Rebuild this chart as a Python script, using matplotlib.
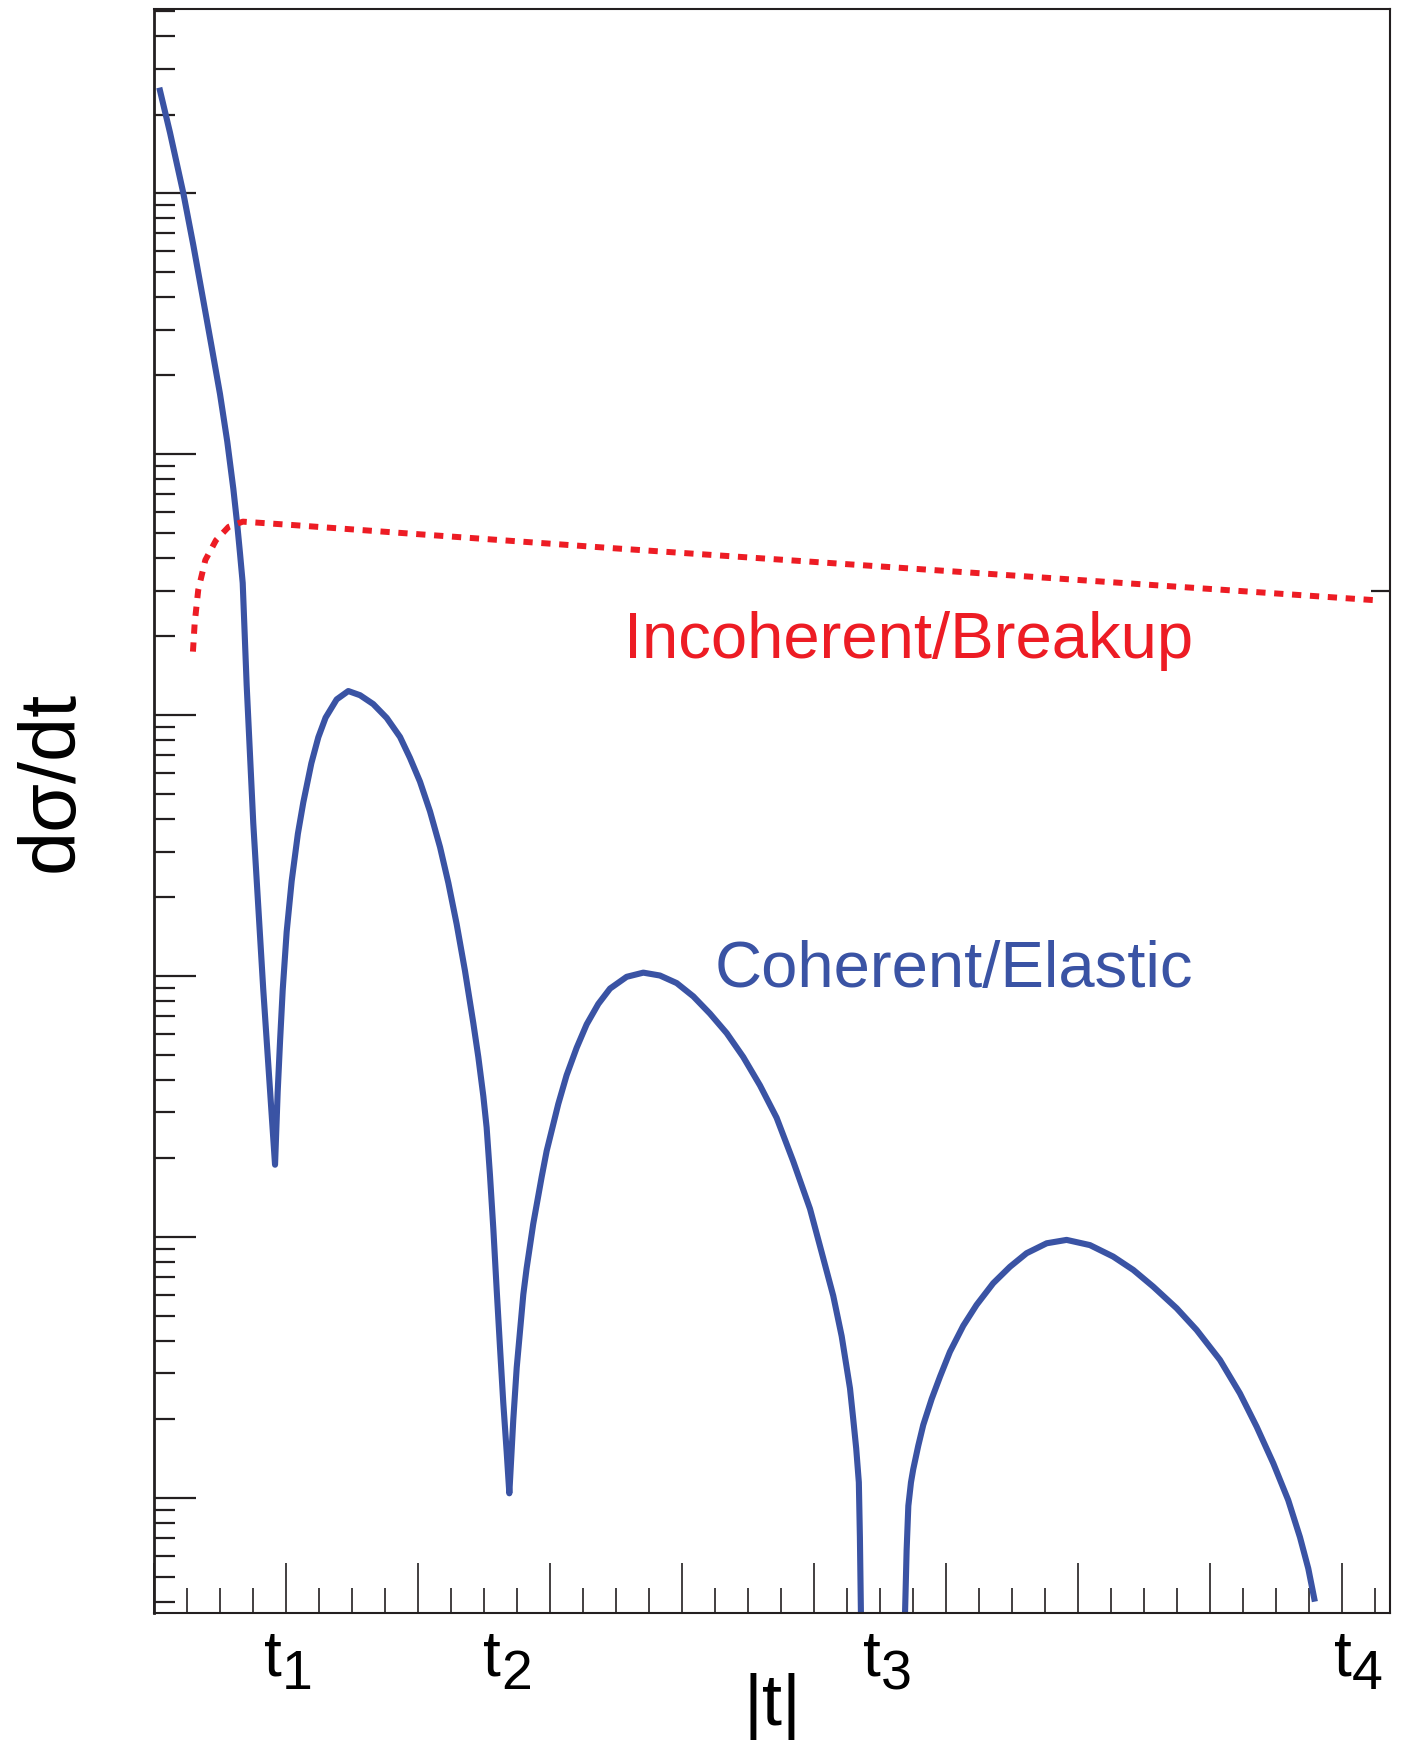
import numpy as np
import matplotlib.pyplot as plt
from matplotlib.ticker import LogLocator, MultipleLocator, NullFormatter, NullLocator

# Coherent/Elastic curve, first part (falls through the 3rd minimum); values are log10(dsigma/dt)
coh_t_a = [0.040, 0.121, 0.222, 0.298, 0.373, 0.437, 0.500, 0.555, 0.601, 0.631, 0.652, 0.672,
           0.702, 0.752, 0.828, 0.917,
           0.937, 0.955, 0.975, 1.005, 1.043, 1.090, 1.131, 1.192, 1.245, 1.300, 1.384, 1.472,
           1.561, 1.661, 1.763, 1.864, 1.939, 2.015, 2.091, 2.167, 2.230, 2.293, 2.356, 2.419,
           2.457, 2.495, 2.520, 2.545, 2.571, 2.596, 2.621, 2.646, 2.672, 2.692,
           2.722, 2.748, 2.798, 2.823, 2.873, 2.937, 2.975, 3.063, 3.126, 3.202, 3.278, 3.366,
           3.455, 3.581, 3.707,
           3.833, 3.960, 4.086, 4.212, 4.339, 4.464, 4.591, 4.717, 4.843, 4.970, 5.058, 5.146,
           5.210, 5.273, 5.298, 5.320, 5.340, 5.348, 5.356]
coh_log10_a = [5.404, 5.232, 5.000, 4.800, 4.590, 4.410, 4.230, 4.048, 3.867, 3.728, 3.617, 3.506,
               3.115, 2.586, 1.946, 1.277,
               1.556, 1.751, 1.946, 2.169, 2.364, 2.545, 2.665, 2.815, 2.915, 2.990, 3.060, 3.092,
               3.076, 3.042, 2.989, 2.916, 2.836, 2.745, 2.631, 2.494, 2.357, 2.199, 2.020, 1.820,
               1.690, 1.540, 1.420, 1.240, 1.030, 0.800, 0.580, 0.366, 0.176, 0.018,
               0.300, 0.500, 0.780, 0.880, 1.050, 1.230, 1.330, 1.510, 1.620, 1.725, 1.815, 1.893,
               1.952, 1.997, 2.013,
               2.002, 1.973, 1.922, 1.856, 1.781, 1.690, 1.581, 1.457, 1.290, 1.108, 0.942, 0.775,
               0.620, 0.420, 0.300, 0.190, 0.060, -0.150, -0.450]

# Coherent/Elastic curve, last lobe
coh_t_b = [5.686, 5.702, 5.715, 5.735, 5.752, 5.790, 5.828, 5.892, 5.955, 6.030, 6.131, 6.232,
           6.358, 6.485, 6.611, 6.763, 6.914, 7.091, 7.267, 7.419, 7.570, 7.748, 7.899, 8.076,
           8.227, 8.354, 8.480, 8.593, 8.682, 8.745, 8.795]
coh_log10_b = [-0.520, -0.200, -0.030, 0.060, 0.110, 0.200, 0.280, 0.380, 0.465, 0.560, 0.660, 0.740,
               0.823, 0.886, 0.938, 0.976, 0.989, 0.969, 0.925, 0.874, 0.810, 0.727, 0.644, 0.529,
               0.401, 0.273, 0.133, -0.008, -0.150, -0.270, -0.397]

# Incoherent/Breakup curve
inc_t = [0.295, 0.308, 0.335, 0.389, 0.470, 0.565, 0.673, 1.052, 1.864, 3.485, 9.280]
inc_log10 = [3.243, 3.351, 3.479, 3.594, 3.670, 3.721, 3.741, 3.728, 3.698, 3.639, 3.439]

# |t| positions of the labelled minima
t_marks = [0.965, 2.630, 5.505, 9.075]
t_subs = ['1', '2', '3', '4']

blue = '#3A53A4'
red = '#ED1C24'
ink = '#231F20'
font = ['Liberation Sans', 'DejaVu Sans']

fig = plt.figure(figsize=(14.09, 17.44), dpi=100)
ax = fig.add_axes([0.1093, 0.0751, 0.8772, 0.9197])
ax.set_yscale('log')
ax.set_xlim(0, 9.364)
ax.set_ylim(0.3625, 5.07e5)

ax.plot(coh_t_a, 10 ** np.array(coh_log10_a), color=blue, lw=4.4,
        solid_joinstyle='round', solid_capstyle='butt')
ax.plot(coh_t_b, 10 ** np.array(coh_log10_b), color=blue, lw=4.4,
        solid_joinstyle='round', solid_capstyle='butt')
ax.plot(inc_t, 10 ** np.array(inc_log10), color=red, lw=4.3,
        linestyle=(0, (1.55, 1.45)), dash_capstyle='butt')

# axes frame and ticks
for side in ['top', 'right', 'bottom']:
    ax.spines[side].set_linewidth(1.5)
    ax.spines[side].set_color(ink)
ax.spines['left'].set_linewidth(2.0)
ax.spines['left'].set_color(ink)

ax.xaxis.set_major_locator(MultipleLocator(1))
ax.xaxis.set_minor_locator(MultipleLocator(0.25))
ax.yaxis.set_major_locator(LogLocator(base=10, numticks=20))
ax.yaxis.set_minor_locator(LogLocator(base=10, subs=range(2, 10), numticks=20))
ax.xaxis.set_major_formatter(NullFormatter())
ax.xaxis.set_minor_formatter(NullFormatter())
ax.yaxis.set_major_formatter(NullFormatter())
ax.yaxis.set_minor_formatter(NullFormatter())
ax.tick_params(axis='x', which='major', direction='in', length=36, width=1.2, color=ink)
ax.tick_params(axis='x', which='minor', direction='in', length=18, width=1.2, color=ink)
ax.tick_params(axis='y', which='major', direction='in', length=30, width=1.6, color=ink)
ax.tick_params(axis='y', which='minor', direction='in', length=15, width=1.6, color=ink)

# lone tick on the right-hand axis
ax2 = ax.twinx()
ax2.set_yscale('log')
ax2.set_ylim(ax.get_ylim())
ax2.set_yticks([3e3])
ax2.yaxis.set_minor_locator(NullLocator())
ax2.yaxis.set_major_formatter(NullFormatter())
ax2.tick_params(axis='y', direction='in', length=14, width=1.6, color=ink)
for s in ax2.spines.values():
    s.set_visible(False)

# t_i labels under the axis
for xm, sub in zip(t_marks, t_subs):
    ax.text(xm, -0.0387, 't', transform=ax.get_xaxis_transform(), ha='right',
            va='baseline', fontsize=46, family=font, color='black')
    ax.text(xm, -0.0474, sub, transform=ax.get_xaxis_transform(), ha='left',
            va='baseline', fontsize=40, family=font, color='black')

ax.text(0.5, -0.070, '|t|', transform=ax.transAxes, ha='center', va='baseline',
        fontsize=52, family=font, color='black')
fig.text(0.0369, 0.552, 'dσ/dt', rotation=90, ha='center', va='center',
         fontsize=57, family=font, color='black')

ax.text(0.8406, 0.5954, 'Incoherent/Breakup', transform=ax.transAxes, ha='right',
        va='baseline', fontsize=47, family=font, color=red)
ax.text(0.8406, 0.390, 'Coherent/Elastic', transform=ax.transAxes, ha='right',
        va='baseline', fontsize=47, family=font, color=blue)

fig.savefig('out.png', dpi=100)
